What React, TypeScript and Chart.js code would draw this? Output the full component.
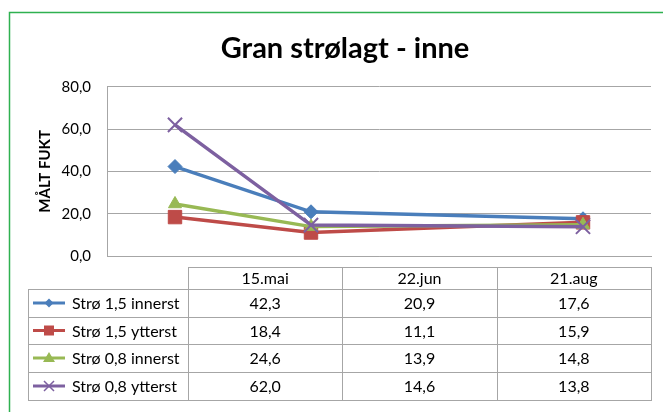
import React, { useEffect, useRef } from "react";
import { Chart, registerables } from "chart.js";

Chart.register(...registerables);

// ---- data ----
const chartTitle = "Gran strølagt - inne";
const yAxisTitle = "MÅLT FUKT";
const categories = ["15.mai", "22.jun", "21.aug"];
const monthOfName: Record<string, number> = { mai: 5, jun: 6, aug: 8 };
const seriesNames = ["Strø 1,5 innerst", "Strø 1,5 ytterst", "Strø 0,8 innerst", "Strø 0,8 ytterst"];
const stro15Innerst = [42.3, 20.9, 17.6];
const stro15Ytterst = [18.4, 11.1, 15.9];
const stro08Innerst = [24.6, 13.9, 14.8];
const stro08Ytterst = [62.0, 14.6, 13.8];
const yMin = 0;
const yMax = 80;
const yStep = 20;

const seriesValues = [stro15Innerst, stro15Ytterst, stro08Innerst, stro08Ytterst];
const seriesColors = ["#4a7ebb", "#be4b48", "#98b954", "#7d60a0"];
const seriesMarkers = ["rectRot", "rect", "triangle", "crossRot"];
const markerRadius = [7, 9.5, 7.5, 10];

const categoryMonths = categories.map((c) => monthOfName[c.split(".")[1]]);
const fmt = (v: number) => v.toFixed(1).replace(".", ",");

const FONT = "Lato, 'Open Sans', sans-serif";

function drawLegendMarker(ctx: CanvasRenderingContext2D, kind: string, x: number, y: number, color: string) {
  ctx.save();
  ctx.fillStyle = color;
  ctx.strokeStyle = color;
  ctx.beginPath();
  if (kind === "rectRot") {
    const r = 4.5;
    ctx.moveTo(x - r, y);
    ctx.lineTo(x, y - r);
    ctx.lineTo(x + r, y);
    ctx.lineTo(x, y + r);
    ctx.closePath();
    ctx.fill();
  } else if (kind === "rect") {
    ctx.rect(x - 5, y - 5, 10, 10);
    ctx.fill();
  } else if (kind === "triangle") {
    ctx.moveTo(x, y - 6);
    ctx.lineTo(x + 6, y + 4);
    ctx.lineTo(x - 6, y + 4);
    ctx.closePath();
    ctx.fill();
  } else {
    ctx.lineWidth = 1.5;
    ctx.moveTo(x - 5, y - 5);
    ctx.lineTo(x + 5, y + 5);
    ctx.moveTo(x + 5, y - 5);
    ctx.lineTo(x - 5, y + 5);
    ctx.stroke();
  }
  ctx.restore();
}

const framePlugin = {
  id: "frameAndTable",
  beforeDraw(chart: any) {
    const ctx = chart.ctx as CanvasRenderingContext2D;
    ctx.save();
    ctx.fillStyle = "#ffffff";
    ctx.fillRect(0, 0, chart.width, chart.height);
    ctx.strokeStyle = "#2fb150";
    ctx.lineWidth = 1.5;
    ctx.strokeRect(9.5, 12.5, 800, 600);
    ctx.restore();
  },
  afterDraw(chart: any) {
    const ctx = chart.ctx as CanvasRenderingContext2D;
    const area = chart.chartArea;
    const tableLeft = 28;
    const colLeft = 188;
    const right = area.right;
    const headerTop = 267;
    const rowYs = [289, 317, 344, 372, 400];
    const colW = (right - colLeft) / categories.length;
    ctx.save();
    ctx.strokeStyle = "#a6a6a6";
    ctx.lineWidth = 1;
    const h = (y: number, x0: number, x1: number) => {
      ctx.beginPath();
      ctx.moveTo(x0, y + 0.5);
      ctx.lineTo(x1, y + 0.5);
      ctx.stroke();
    };
    const v = (x: number, y0: number, y1: number) => {
      ctx.beginPath();
      ctx.moveTo(Math.round(x) + 0.5, y0);
      ctx.lineTo(Math.round(x) + 0.5, y1);
      ctx.stroke();
    };
    h(headerTop, colLeft, right + 1);
    rowYs.forEach((y) => h(y, tableLeft, right + 1));
    v(tableLeft, rowYs[0], rowYs[rowYs.length - 1] + 1);
    for (let i = 0; i <= categories.length; i++) {
      v(colLeft + i * colW, headerTop, rowYs[rowYs.length - 1] + 1);
    }
    ctx.fillStyle = "#000";
    ctx.font = `16px ${FONT}`;
    ctx.textBaseline = "middle";
    ctx.textAlign = "center";
    categories.forEach((c, i) => {
      ctx.fillText(c, colLeft + (i + 0.5) * colW, (headerTop + rowYs[0]) / 2 + 1);
    });
    seriesNames.forEach((name, s) => {
      const yc = (rowYs[s] + rowYs[s + 1]) / 2 + 1;
      ctx.strokeStyle = seriesColors[s];
      ctx.lineWidth = 3;
      ctx.beginPath();
      ctx.moveTo(33, yc - 1);
      ctx.lineTo(65, yc - 1);
      ctx.stroke();
      drawLegendMarker(ctx, seriesMarkers[s], 49, yc - 1, seriesColors[s]);
      ctx.fillStyle = "#000";
      ctx.textAlign = "left";
      ctx.fillText(name, 72, yc);
      ctx.textAlign = "center";
      seriesValues[s].forEach((val, i) => {
        ctx.fillText(fmt(val), colLeft + (i + 0.5) * colW, yc);
      });
    });
    ctx.restore();
  },
};

export default function App() {
  const ref = useRef<HTMLCanvasElement | null>(null);
  useEffect(() => {
    if (!ref.current) return;
    const datasets = seriesNames.map((name, s) => ({
      label: name,
      data: seriesValues[s].map((y, i) => ({ x: categoryMonths[i], y })),
      borderColor: seriesColors[s],
      backgroundColor: seriesColors[s],
      borderWidth: 3.5,
      pointStyle: seriesMarkers[s] as any,
      pointRadius: markerRadius[s],
      pointBorderWidth: s === 3 ? 2 : 1,
      pointBorderColor: seriesColors[s],
      pointBackgroundColor: seriesColors[s],
      tension: 0,
      order: seriesNames.length - 1 - s,
    }));
    const chart = new Chart(ref.current, {
      type: "line",
      data: { datasets },
      plugins: [framePlugin],
      options: {
        responsive: false,
        animation: false,
        events: [],
        layout: { padding: { left: 30, right: 3, top: 0, bottom: 156 } },
        plugins: {
          legend: { display: false },
          tooltip: { enabled: false },
          title: {
            display: true,
            text: chartTitle,
            color: "#000",
            font: { family: FONT, size: 29, weight: "bold" },
            padding: { top: 31, bottom: 21 },
          },
        },
        scales: {
          x: {
            type: "linear",
            min: Math.min(...categoryMonths) - 0.5,
            max: Math.max(...categoryMonths) + 0.5,
            ticks: { display: false },
            grid: { display: false },
            border: { display: true, color: "#a6a6a6", width: 1 },
            afterFit: (s: any) => {
              s.height = 0;
            },
          },
          y: {
            min: yMin,
            max: yMax,
            ticks: {
              stepSize: yStep,
              padding: 16,
              color: "#000",
              font: { family: FONT, size: 15 },
              callback: (val: any) => fmt(Number(val)),
            },
            grid: { color: "#a6a6a6", drawTicks: false, lineWidth: 1 },
            border: { display: true, color: "#a6a6a6", width: 1 },
            title: {
              display: true,
              text: yAxisTitle,
              color: "#000",
              font: { family: FONT, size: 15, weight: "bold" },
              padding: { top: 6, bottom: 0 },
            },
            afterFit: (s: any) => {
              s.width = 77;
            },
          },
        },
      },
    });
    return () => chart.destroy();
  }, []);
  return (
    <div style={{ position: "fixed", left: 0, top: 0, width: 663, height: 412, background: "#fff" }}>
      <canvas ref={ref} width={663} height={412} style={{ display: "block" }} />
    </div>
  );
}
